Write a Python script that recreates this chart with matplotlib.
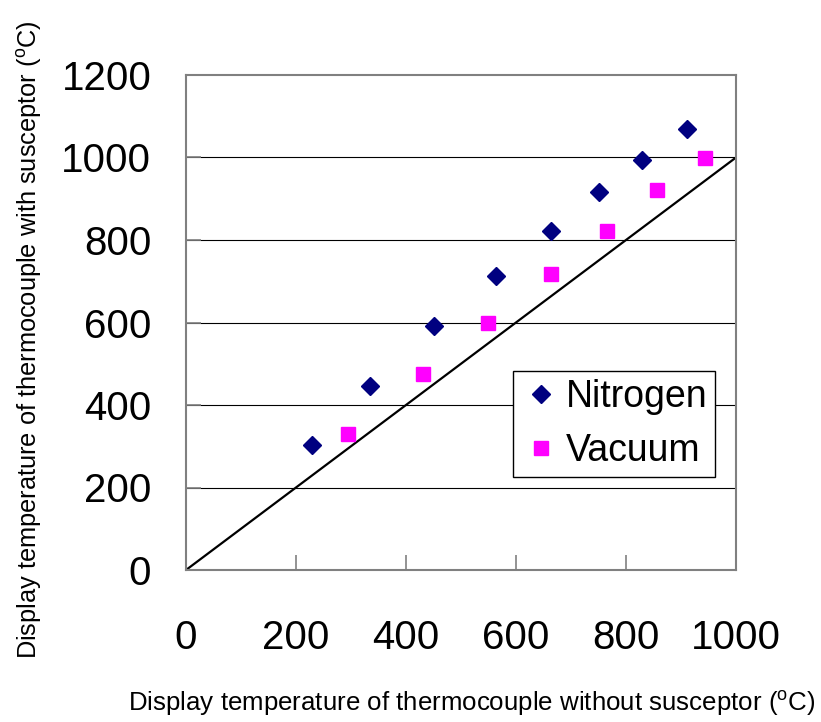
import matplotlib
matplotlib.use("Agg")
import matplotlib.pyplot as plt

plt.rcParams['font.family'] = ['Liberation Sans', 'DejaVu Sans']
plt.rcParams['mathtext.fontset'] = 'custom'
plt.rcParams['mathtext.rm'] = 'Liberation Sans'

# data
nitrogen_x = [229, 334, 451, 564, 664, 751, 829, 911]
nitrogen_y = [302, 446, 592, 712, 821, 917, 995, 1068]
vacuum_x = [294, 430, 549, 663, 766, 857, 944]
vacuum_y = [329, 474, 600, 717, 823, 921, 998]
line_x = [0, 1000]
line_y = [0, 1000]
xticks = [0, 200, 400, 600, 800, 1000]
yticks = [0, 200, 400, 600, 800, 1000, 1200]

fig = plt.figure(figsize=(8.21, 7.22), dpi=100)
ax = fig.add_axes([186/821, 152/722, 550/821, 495/722])

for y in yticks[1:-1]:
    ax.axhline(y, color='black', lw=0.8, zorder=1)

ax.plot(line_x, line_y, color='black', lw=1.6, zorder=2)
ax.plot(nitrogen_x, nitrogen_y, 'D', color='#000080', ms=9, mec='#000080',
        ls='none', label='Nitrogen', zorder=3)
ax.plot(vacuum_x, vacuum_y, 's', color='#FF00FF', ms=10.3, mec='#FF00FF',
        ls='none', label='Vacuum', zorder=3)

ax.set_xlim(0, 1000)
ax.set_ylim(0, 1200)
ax.set_xticks(xticks)
ax.set_yticks(yticks)
ax.tick_params(axis='both', direction='in', length=11, width=1.2, color='#808080',
               labelsize=29)
ax.tick_params(axis='x', pad=35)
ax.tick_params(axis='y', pad=25)
for s in ax.spines.values():
    s.set_color('#808080')
    s.set_linewidth(1.5)

ax.set_xlabel(r'Display temperature of thermocouple without susceptor ($^{\rm o}$C)',
              fontsize=18.6, va='center')
ax.set_ylabel(r'Display temperature of thermocouple with susceptor ($^{\rm o}$C)',
              fontsize=18.3, va='center')
ax.xaxis.set_label_coords(0.519, -0.27)
ax.yaxis.set_label_coords(-0.284, 0.465)

leg = ax.legend(loc='lower right', bbox_to_anchor=(0.962, 0.188), fontsize=27,
                frameon=True, fancybox=False, handlelength=1.05, handletextpad=0.15,
                borderpad=0.2, labelspacing=0.5, borderaxespad=0)
leg.get_frame().set_edgecolor('black')
leg.get_frame().set_linewidth(1)
leg.get_frame().set_alpha(1)

fig.savefig('out.png', dpi=100)
